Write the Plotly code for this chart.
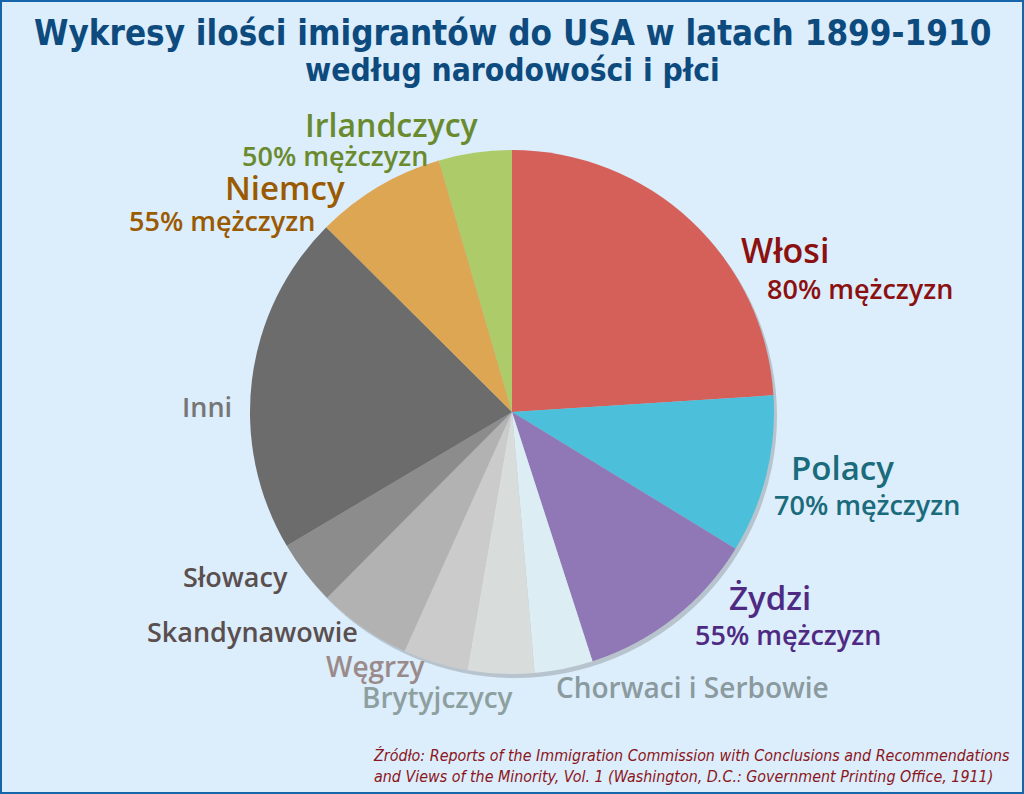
import plotly.graph_objects as go

categories = ["Włosi", "Polacy", "Żydzi", "Chorwaci i Serbowie", "Brytyjczycy", "Węgrzy",
              "Skandynawowie", "Słowacy", "Inni", "Niemcy", "Irlandczycy"]
shares = [24.0, 9.75, 11.3, 3.6, 4.1, 4.0, 5.75, 4.0, 21.0, 8.05, 4.5]
men_share = ["80% mężczyzn", "70% mężczyzn", "55% mężczyzn", "", "", "", "", "", "", "55% mężczyzn", "50% mężczyzn"]
slice_colors = ["#d5605a", "#4cbfdb", "#9077b5", "#dcedf3", "#d8dddc", "#cbcbcb",
                "#b2b2b2", "#8c8c8c", "#6c6c6c", "#dca653", "#adcb69"]
label_colors = ["#8b1010", "#1a6b7c", "#4e2a82", "#8a9a9e", "#8e9fa0", "#9a8a8a",
                "#5a4f4f", "#5a4f4f", "#767676", "#9a5a00", "#6a8a2e"]

W, H = 1024, 794
cx, cy, R = 512, 412, 262
fig = go.Figure()
# soft shadow
fig.add_trace(go.Pie(
    values=[1], sort=False, marker=dict(colors=["rgba(90,90,90,0.28)"], line=dict(width=0)),
    textinfo="none", showlegend=False, hoverinfo="skip",
    domain=dict(x=[(cx - R + 3) / W, (cx + R + 3) / W], y=[1 - (cy + R + 4) / H, 1 - (cy - R + 4) / H]),
))
fig.add_trace(go.Pie(
    labels=categories, values=shares, sort=False, direction="clockwise", rotation=0,
    marker=dict(colors=slice_colors, line=dict(width=0)),
    textinfo="none", showlegend=False,
    domain=dict(x=[(cx - R) / W, (cx + R) / W], y=[1 - (cy + R) / H, 1 - (cy - R) / H]),
))

# label positions (pixels): name x, y, size, sub-label x, y
name_pos = {
    "Włosi": (785, 250, 34, 860, 288),
    "Polacy": (842, 467, 33, 867, 504),
    "Żydzi": (770, 597, 33, 788, 634),
    "Chorwaci i Serbowie": (692, 687, 28, None, None),
    "Brytyjczycy": (437, 697, 28, None, None),
    "Węgrzy": (375, 666, 28, None, None),
    "Skandynawowie": (252, 631, 27, None, None),
    "Słowacy": (235, 576, 27, None, None),
    "Inni": (207, 406, 27, None, None),
    "Niemcy": (285, 188, 33, 222, 220),
    "Irlandczycy": (392, 124, 32, 335, 156),
}
font = "Open Sans"
for i, c in enumerate(categories):
    x, y, s, sx, sy = name_pos[c]
    fig.add_annotation(x=x / W, y=1 - y / H, xref="paper", yref="paper", text=c,
                       showarrow=False, font=dict(family=font, size=s, weight=600, color=label_colors[i]),
                       xanchor="center", yanchor="middle")
    if men_share[i]:
        fig.add_annotation(x=sx / W, y=1 - sy / H, xref="paper", yref="paper",
                           text=men_share[i], showarrow=False,
                           font=dict(family=font, size=27, weight=600, color=label_colors[i]),
                           xanchor="center", yanchor="middle")

title_font = "DejaVu Sans Condensed, Liberation Sans"
fig.add_annotation(x=0.5, y=1 - 33 / H, xref="paper", yref="paper",
                   text="Wykresy ilości imigrantów do USA w latach 1899-1910",
                   showarrow=False, font=dict(family=title_font, size=34.7, weight=700, color="#0d4a7e"),
                   xanchor="center", yanchor="middle")
fig.add_annotation(x=0.5, y=1 - 70 / H, xref="paper", yref="paper",
                   text="według narodowości i płci",
                   showarrow=False, font=dict(family=title_font, size=31.5, weight=700, color="#0d4a7e"),
                   xanchor="center", yanchor="middle")
fig.add_annotation(x=1012 / W, y=1 - 766 / H, xref="paper", yref="paper",
                   text="<i>Źródło: Reports of the Immigration Commission with Conclusions and Recommendations<br>"
                        "and Views of the Minority, Vol. 1 (Washington, D.C.: Government Printing Office, 1911)</i>",
                   showarrow=False, align="left",
                   font=dict(family=title_font, size=15.9, color="#8b1520"),
                   xanchor="right", yanchor="middle")

fig.update_layout(
    width=W, height=H, margin=dict(l=0, r=0, t=0, b=0),
    paper_bgcolor="#dcedfb", plot_bgcolor="#dcedfb",
    shapes=[dict(type="rect", xref="paper", yref="paper", x0=0, y0=0, x1=1, y1=1,
                 line=dict(color="#1565a8", width=4))],
)
fig.write_html("out.html", config={"displayModeBar": False},
               post_script="document.body.style.margin='0';document.body.style.overflow='hidden';")
